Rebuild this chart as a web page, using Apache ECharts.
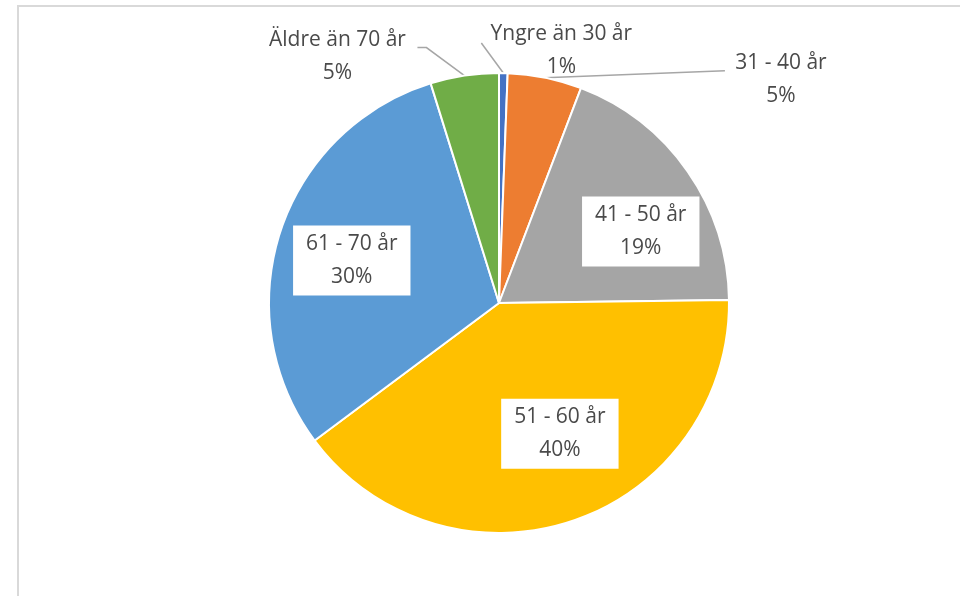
<!DOCTYPE html>
<html>
<head>
<meta charset="utf-8">
<script src="https://cdn.jsdelivr.net/npm/echarts@6/dist/echarts.min.js"></script>
<style>
  html, body { margin: 0; padding: 0; background: #fff; }
  #main { width: 960px; height: 596px; }
</style>
</head>
<body>
<div id="main"></div>
<script>
// åldersfördelning (procent)
const categories = ['Yngre än 30 år', '31 - 40 år', '41 - 50 år', '51 - 60 år', '61 - 70 år', 'Äldre än 70 år'];
const values = [0.6, 5.2, 19.0, 40.0, 30.4, 4.8];
const colors = ['#4472C4', '#ED7D31', '#A5A5A5', '#FFC000', '#5B9BD5', '#70AD47'];

// var etiketterna hamnar: inne i tårtbiten (flyttas från standardläget)
// eller utanför, relativt bitens ytterkant, med egen hänvisningslinje
const labelPlace = [
    { out: true, dx: 58, dy: -23, line: [[-80, -7]] },
    { out: true, dx: 236, dy: 2, line: [[-56, -9]] },
    { out: false, dx: 45, dy: -4 },
    { out: false, dx: 23, dy: 19 },
    { out: false, dx: -35, dy: -6 },
    { out: true, dx: -127, dy: -19, line: [[89, -9], [80, -9]] }
];

const textColor = '#4a4a4a';

let pieData = categories.map((name, i) => {
    let inside = !labelPlace[i].out;
    return {
        name: name,
        value: values[i],
        itemStyle: { color: colors[i] },
        label: inside ? {
            position: 'inside',
            backgroundColor: '#fff',
            padding: [2, 13]
        } : {
            position: 'outside'
        },
        labelLine: { show: !inside }
    };
});

let chart = echarts.init(document.getElementById('main'));

chart.setOption({
    animation: false,
    backgroundColor: '#fff',
    graphic: [{
        type: 'rect',
        shape: { x: 18, y: 6, width: 1000, height: 700 },
        style: { fill: 'none', stroke: '#d9d9d9', lineWidth: 2 },
        silent: true
    }],
    series: [{
        type: 'pie',
        center: [499, 303],
        radius: 230,
        startAngle: 90,
        clockwise: true,
        percentPrecision: 0,
        avoidLabelOverlap: false,
        itemStyle: { borderColor: '#fff', borderWidth: 2 },
        emphasis: { disabled: true },
        label: {
            show: true,
            formatter: '{b}\n{d}%',
            color: textColor,
            fontFamily: 'Open Sans',
            fontSize: 21,
            lineHeight: 33
        },
        labelLine: {
            lineStyle: { color: '#a6a6a6', width: 1.5 }
        },
        labelLayout: function (p) {
            let s = labelPlace[p.dataIndex];
            let r = p.labelRect;
            let cx, cy;
            if (s.out) {
                cx = p.labelLinePoints[0][0] + s.dx;
                cy = p.labelLinePoints[0][1] + s.dy;
            } else {
                cx = r.x + r.width / 2 + s.dx;
                cy = r.y + r.height / 2 + s.dy;
            }
            let res = { x: cx, y: cy, align: 'center', verticalAlign: 'middle' };
            if (s.out) {
                let e = p.labelLinePoints[0];
                let pts = s.line.map(q => [cx + q[0], cy + q[1]]);
                if (pts.length === 1) {
                    pts.unshift([(e[0] + pts[0][0]) / 2, (e[1] + pts[0][1]) / 2]);
                }
                res.labelLinePoints = [e].concat(pts);
            }
            return res;
        },
        data: pieData
    }]
});
</script>
</body>
</html>
